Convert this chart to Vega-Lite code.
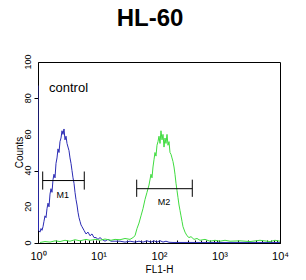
{
  "$schema": "https://vega.github.io/schema/vega-lite/v6.json",
  "width": 242,
  "height": 181,
  "autosize": "none",
  "padding": {"left": 38, "top": 62, "right": 26, "bottom": 37},
  "background": "white",
  "title": {"text": "HL-60", "fontSize": 24, "fontWeight": "bold", "font": "Liberation Sans", "color": "black", "offset": 23, "dx": -9, "anchor": "middle"},
  "config": {"view": {"stroke": "black", "strokeWidth": 1}, "font": "Liberation Sans"},
  "datasets": {
    "curves": [
      {"s": "blue", "x": 1.0, "c": 87}, {"s": "blue", "x": 1.019, "c": 7}, {"s": "blue", "x": 1.079, "c": 6}, {"s": "blue", "x": 1.121, "c": 8}, {"s": "blue", "x": 1.165, "c": 7}, {"s": "blue", "x": 1.21, "c": 9}, {"s": "blue", "x": 1.256, "c": 12}, {"s": "blue", "x": 1.305, "c": 15}, {"s": "blue", "x": 1.356, "c": 14}, {"s": "blue", "x": 1.409, "c": 19}, {"s": "blue", "x": 1.464, "c": 22}, {"s": "blue", "x": 1.52, "c": 20}, {"s": "blue", "x": 1.579, "c": 27}, {"s": "blue", "x": 1.64, "c": 30}, {"s": "blue", "x": 1.703, "c": 28}, {"s": "blue", "x": 1.77, "c": 35}, {"s": "blue", "x": 1.838, "c": 38}, {"s": "blue", "x": 1.91, "c": 36}, {"s": "blue", "x": 1.984, "c": 44}, {"s": "blue", "x": 2.061, "c": 47}, {"s": "blue", "x": 2.141, "c": 52}, {"s": "blue", "x": 2.224, "c": 50}, {"s": "blue", "x": 2.31, "c": 56}, {"s": "blue", "x": 2.4, "c": 58}, {"s": "blue", "x": 2.493, "c": 62}, {"s": "blue", "x": 2.59, "c": 60}, {"s": "blue", "x": 2.69, "c": 63}, {"s": "blue", "x": 2.795, "c": 57}, {"s": "blue", "x": 2.903, "c": 59}, {"s": "blue", "x": 3.016, "c": 55}, {"s": "blue", "x": 3.133, "c": 53}, {"s": "blue", "x": 3.254, "c": 51}, {"s": "blue", "x": 3.381, "c": 47}, {"s": "blue", "x": 3.512, "c": 44}, {"s": "blue", "x": 3.648, "c": 40}, {"s": "blue", "x": 3.79, "c": 36}, {"s": "blue", "x": 3.936, "c": 33}, {"s": "blue", "x": 4.089, "c": 28}, {"s": "blue", "x": 4.248, "c": 24}, {"s": "blue", "x": 4.413, "c": 21}, {"s": "blue", "x": 4.584, "c": 17}, {"s": "blue", "x": 4.762, "c": 14}, {"s": "blue", "x": 4.946, "c": 12}, {"s": "blue", "x": 5.138, "c": 10}, {"s": "blue", "x": 5.338, "c": 9}, {"s": "blue", "x": 5.76, "c": 7}, {"s": "blue", "x": 6.215, "c": 5}, {"s": "blue", "x": 6.707, "c": 6}, {"s": "blue", "x": 7.237, "c": 4}, {"s": "blue", "x": 7.809, "c": 5}, {"s": "blue", "x": 8.426, "c": 3}, {"s": "blue", "x": 9.093, "c": 3}, {"s": "blue", "x": 9.811, "c": 2}, {"s": "blue", "x": 10.59, "c": 3}, {"s": "blue", "x": 11.42, "c": 2}, {"s": "blue", "x": 12.81, "c": 1}, {"s": "blue", "x": 14.36, "c": 2}, {"s": "blue", "x": 16.1, "c": 1}, {"s": "blue", "x": 18.74, "c": 1}, {"s": "blue", "x": 22.67, "c": 1}, {"s": "blue", "x": 27.42, "c": 0.5}, {"s": "blue", "x": 33.17, "c": 1}, {"s": "blue", "x": 40.12, "c": 0.5}, {"s": "blue", "x": 46.71, "c": 1}, {"s": "blue", "x": 54.39, "c": 0.5}, {"s": "blue", "x": 63.33, "c": 1.2}, {"s": "blue", "x": 73.74, "c": 0.5}, {"s": "blue", "x": 82.66, "c": 1.2}, {"s": "blue", "x": 92.66, "c": 0.5}, {"s": "blue", "x": 103.9, "c": 1.3}, {"s": "blue", "x": 116.5, "c": 0.5}, {"s": "blue", "x": 130.5, "c": 1}, {"s": "blue", "x": 146.4, "c": 0.4}, {"s": "blue", "x": 170.3, "c": 0.3}, {"s": "blue", "x": 249.3, "c": 0.3}, {"s": "blue", "x": 424.8, "c": 0.3}, {"s": "blue", "x": 696.6, "c": 0.3}, {"s": "blue", "x": 1233, "c": 0.3}, {"s": "blue", "x": 2182, "c": 0.3}, {"s": "blue", "x": 4671, "c": 0.3}, {"s": "blue", "x": 10000, "c": 0.3},
      {"s": "green", "x": 1.079, "c": 0.3}, {"s": "green", "x": 1.305, "c": 0.8}, {"s": "green", "x": 1.579, "c": 0.5}, {"s": "green", "x": 1.91, "c": 1.2}, {"s": "green", "x": 2.31, "c": 0.8}, {"s": "green", "x": 2.795, "c": 1.5}, {"s": "green", "x": 3.381, "c": 1}, {"s": "green", "x": 4.089, "c": 1.8}, {"s": "green", "x": 4.946, "c": 1.2}, {"s": "green", "x": 6.215, "c": 2}, {"s": "green", "x": 7.237, "c": 1.5}, {"s": "green", "x": 9.093, "c": 2}, {"s": "green", "x": 10.59, "c": 1.5}, {"s": "green", "x": 12.81, "c": 2.2}, {"s": "green", "x": 16.1, "c": 1.5}, {"s": "green", "x": 18.74, "c": 2}, {"s": "green", "x": 22.67, "c": 1.8}, {"s": "green", "x": 27.42, "c": 2.5}, {"s": "green", "x": 33.17, "c": 2}, {"s": "green", "x": 37.18, "c": 3}, {"s": "green", "x": 40.12, "c": 4}, {"s": "green", "x": 43.29, "c": 8}, {"s": "green", "x": 46.71, "c": 11}, {"s": "green", "x": 50.4, "c": 15}, {"s": "green", "x": 54.39, "c": 19}, {"s": "green", "x": 58.69, "c": 24}, {"s": "green", "x": 63.33, "c": 28}, {"s": "green", "x": 68.33, "c": 32}, {"s": "green", "x": 73.74, "c": 38}, {"s": "green", "x": 76.6, "c": 36}, {"s": "green", "x": 79.57, "c": 42}, {"s": "green", "x": 82.66, "c": 46}, {"s": "green", "x": 85.87, "c": 50}, {"s": "green", "x": 89.19, "c": 48}, {"s": "green", "x": 92.66, "c": 54}, {"s": "green", "x": 96.25, "c": 56}, {"s": "green", "x": 100.0, "c": 59}, {"s": "green", "x": 103.9, "c": 55}, {"s": "green", "x": 107.9, "c": 62}, {"s": "green", "x": 112.1, "c": 57}, {"s": "green", "x": 116.5, "c": 60}, {"s": "green", "x": 121.0, "c": 53}, {"s": "green", "x": 125.7, "c": 58}, {"s": "green", "x": 130.5, "c": 55}, {"s": "green", "x": 135.6, "c": 60}, {"s": "green", "x": 140.9, "c": 54}, {"s": "green", "x": 146.4, "c": 56}, {"s": "green", "x": 152.0, "c": 50}, {"s": "green", "x": 157.9, "c": 49}, {"s": "green", "x": 164.0, "c": 47}, {"s": "green", "x": 170.3, "c": 45}, {"s": "green", "x": 177.0, "c": 42}, {"s": "green", "x": 183.8, "c": 38}, {"s": "green", "x": 191.0, "c": 33}, {"s": "green", "x": 198.4, "c": 29}, {"s": "green", "x": 206.1, "c": 25}, {"s": "green", "x": 214.1, "c": 21}, {"s": "green", "x": 222.4, "c": 18}, {"s": "green", "x": 231.0, "c": 15}, {"s": "green", "x": 240.0, "c": 12}, {"s": "green", "x": 249.3, "c": 9}, {"s": "green", "x": 269.0, "c": 6}, {"s": "green", "x": 290.3, "c": 4}, {"s": "green", "x": 313.3, "c": 3}, {"s": "green", "x": 338.1, "c": 3.5}, {"s": "green", "x": 379.0, "c": 2}, {"s": "green", "x": 424.8, "c": 2.5}, {"s": "green", "x": 476.2, "c": 1.5}, {"s": "green", "x": 576.0, "c": 2}, {"s": "green", "x": 696.6, "c": 1}, {"s": "green", "x": 842.6, "c": 1.5}, {"s": "green", "x": 1019, "c": 1}, {"s": "green", "x": 1233, "c": 1.5}, {"s": "green", "x": 1492, "c": 1}, {"s": "green", "x": 2182, "c": 1.2}, {"s": "green", "x": 3193, "c": 0.8}, {"s": "green", "x": 4671, "c": 1.5}, {"s": "green", "x": 6833, "c": 0.8}, {"s": "green", "x": 8266, "c": 1.5}, {"s": "green", "x": 10000, "c": 1}
    ],
    "markers": [
      {"m": "M1", "x1": 1.196, "x2": 5.82, "y": 34.5, "lx": 2.56, "ly": 26.5},
      {"m": "M2", "x1": 42.8, "x2": 355, "y": 30, "lx": 121, "ly": 22.8}
    ],
    "caps": [
      {"x": 1.196, "ylo": 29.5, "yhi": 39.5},
      {"x": 5.82, "ylo": 29.5, "yhi": 39.5},
      {"x": 42.8, "ylo": 25.5, "yhi": 35},
      {"x": 355, "ylo": 25.5, "yhi": 35}
    ],
    "notes": [{"t": "control", "x": 1.52, "y": 85.6}],
    "ylabels": [{"v": 0, "t": "0"}, {"v": 20, "t": "20"}, {"v": 40, "t": "40"}, {"v": 60, "t": "60"}, {"v": 80, "t": "80"}, {"v": 100, "t": "100"}]
  },
  "layer": [
    {
      "data": {"name": "curves"},
      "mark": {"type": "line", "strokeWidth": 1, "clip": true},
      "encoding": {
        "x": {"field": "x", "type": "quantitative",
          "scale": {"type": "log", "domain": [1, 10000], "nice": false},
          "axis": {
            "title": "FL1-H", "titleFontSize": 10, "titleFontWeight": "normal", "titleColor": "black", "titlePadding": 3,
            "values": [1,2,3,4,5,6,7,8,9,10,20,30,40,50,60,70,80,90,100,200,300,400,500,600,700,800,900,1000,2000,3000,4000,5000,6000,7000,8000,9000,10000],
            "labelExpr": "datum.value == 1 ? '10⁰' : datum.value == 10 ? '10¹' : datum.value == 100 ? '10²' : datum.value == 1000 ? '10³' : datum.value == 10000 ? '10⁴' : ''",
            "labelFontSize": 11, "labelColor": "black", "labelPadding": 10, "labelFlush": false, "labelOverlap": false,
            "tickSize": -3, "tickColor": "black", "domainColor": "black", "grid": false
          }
        },
        "y": {"field": "c", "type": "quantitative",
          "scale": {"domain": [0, 100], "nice": false},
          "axis": {
            "title": "Counts", "titleFontSize": 10, "titleFontWeight": "normal", "titleColor": "black",
            "titleX": -19, "titleY": 90, "titleAngle": 270, "titleAlign": "center", "titleBaseline": "middle",
            "values": [0,5,10,15,20,25,30,35,40,45,50,55,60,65,70,75,80,85,90,95,100],
            "labels": false,
            "tickSize": 4, "tickColor": "black", "domainColor": "black", "grid": false
          }
        },
        "color": {"field": "s", "type": "nominal", "scale": {"domain": ["green", "blue"], "range": ["#3fdc3f", "#2a2ab4"]}, "legend": null},
        "order": {"field": "x", "type": "quantitative"}
      }
    },
    {
      "data": {"name": "ylabels"},
      "mark": {"type": "text", "fontSize": 9, "color": "black", "align": "center", "baseline": "middle", "angle": 270, "dy": -10},
      "encoding": {"x": {"datum": 1, "type": "quantitative"}, "y": {"field": "v", "type": "quantitative"}, "text": {"field": "t"}}
    },
    {
      "data": {"name": "markers"},
      "mark": {"type": "rule", "color": "black", "strokeWidth": 1},
      "encoding": {"x": {"field": "x1", "type": "quantitative"}, "x2": {"field": "x2"}, "y": {"field": "y", "type": "quantitative"}}
    },
    {
      "data": {"name": "caps"},
      "mark": {"type": "rule", "color": "black", "strokeWidth": 1},
      "encoding": {"x": {"field": "x", "type": "quantitative"}, "y": {"field": "ylo", "type": "quantitative"}, "y2": {"field": "yhi"}}
    },
    {
      "data": {"name": "markers"},
      "mark": {"type": "text", "fontSize": 9, "color": "black", "align": "center", "baseline": "middle"},
      "encoding": {"x": {"field": "lx", "type": "quantitative"}, "y": {"field": "ly", "type": "quantitative"}, "text": {"field": "m"}}
    },
    {
      "data": {"name": "notes"},
      "mark": {"type": "text", "fontSize": 13, "color": "black", "align": "left", "baseline": "middle"},
      "encoding": {"x": {"field": "x", "type": "quantitative"}, "y": {"field": "y", "type": "quantitative"}, "text": {"field": "t"}}
    }
  ]
}
